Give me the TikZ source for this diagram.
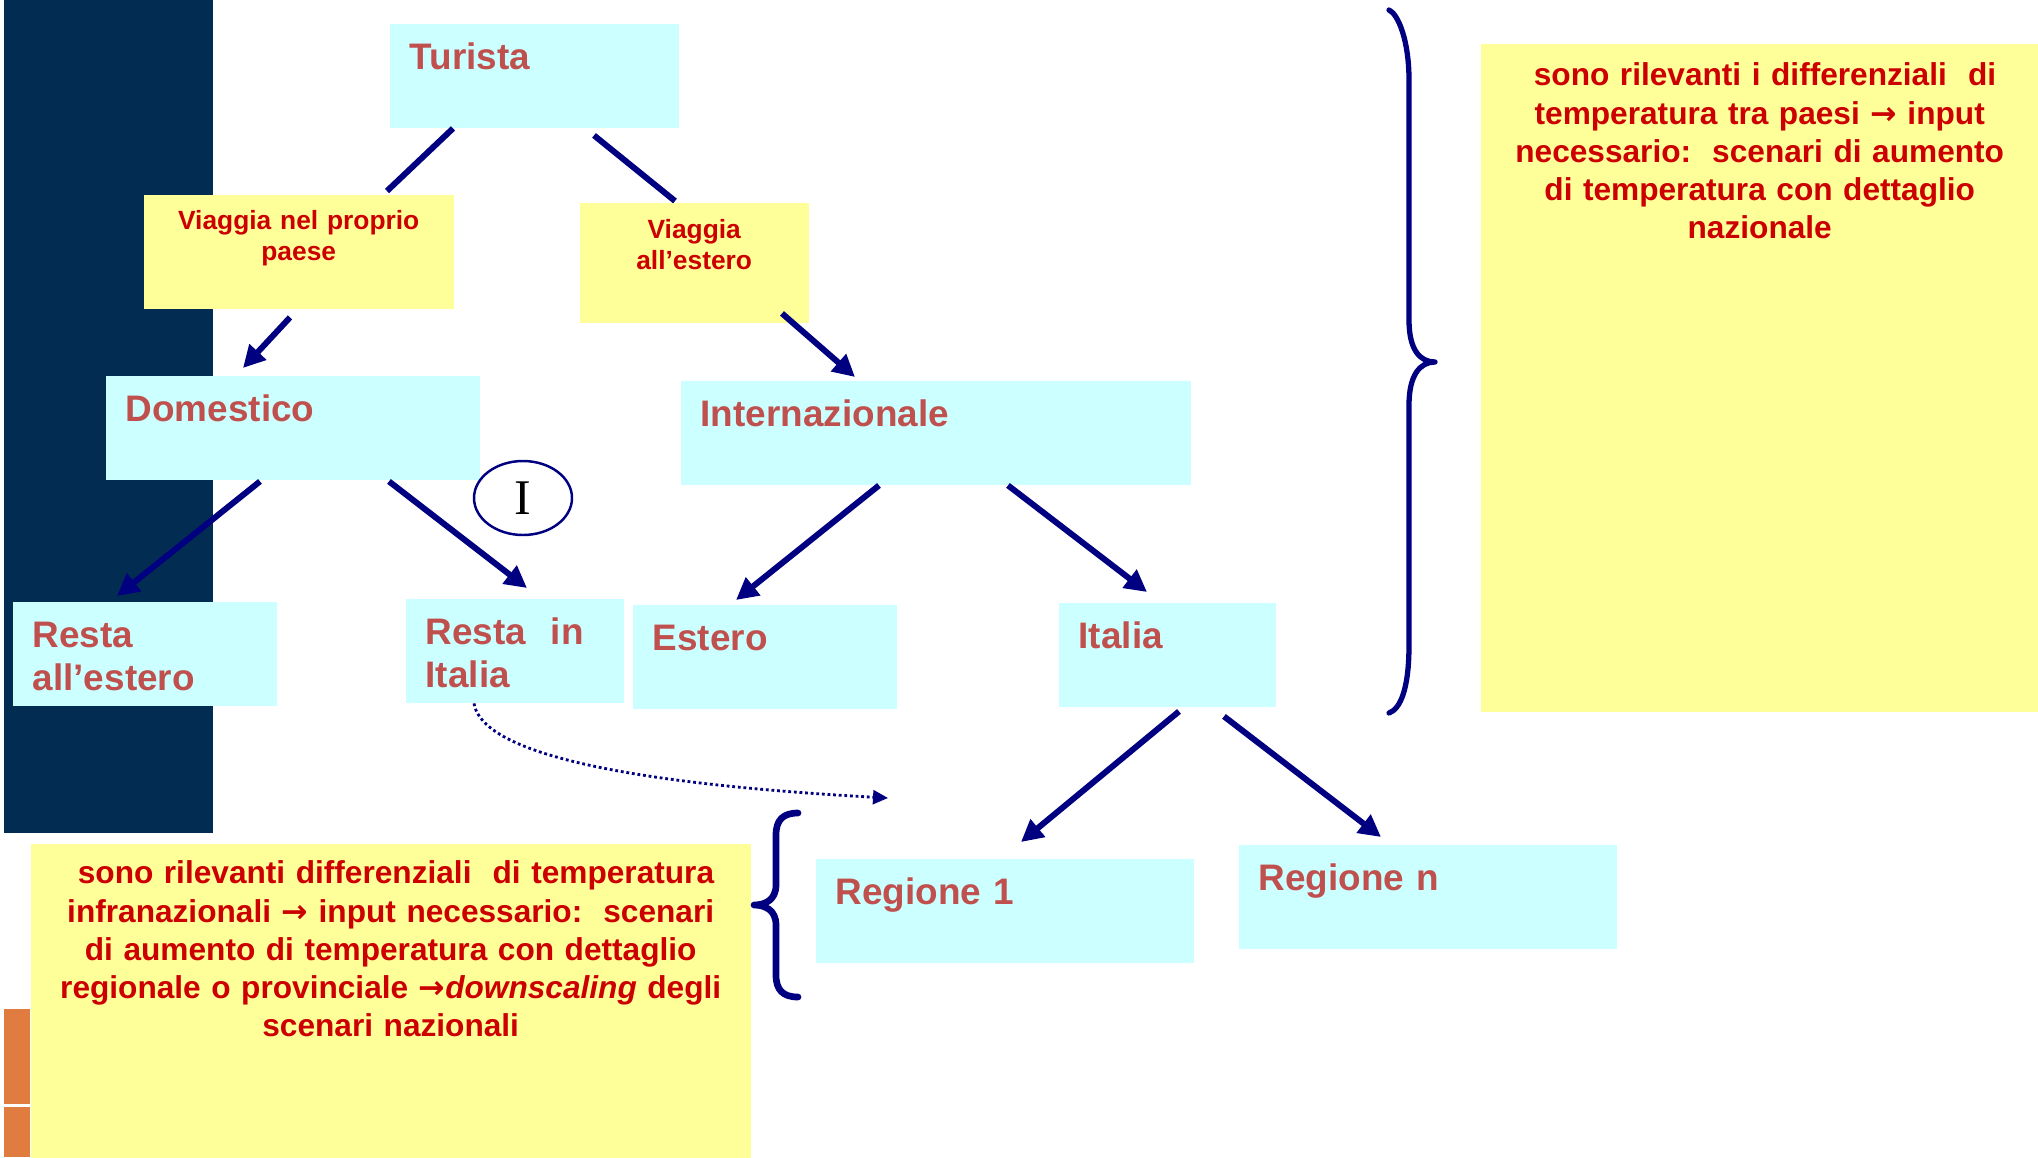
\documentclass[tikz,border=0pt]{standalone}
\usepackage{fontspec}
\setmainfont{Liberation Sans}
\newfontfamily\romanI{Liberation Serif}
\newfontfamily\arrowfont{DejaVu Sans}
\usetikzlibrary{calc,arrows.meta,shapes.geometric}
\definecolor{panelblue}{RGB}{3,44,82}
\definecolor{barorange}{RGB}{224,124,64}
\definecolor{boxcyan}{RGB}{204,255,255}
\definecolor{boxyellow}{RGB}{255,255,153}
\definecolor{lblred}{RGB}{192,80,77}
\definecolor{txtred}{RGB}{204,0,0}
\definecolor{linknavy}{RGB}{0,0,128}
\def\then{{\arrowfont\bfseries →}}
\tikzset{
	cbox/.style={fill=boxcyan, anchor=north west, inner xsep=0.2cm, inner ysep=0pt,
		text height=0.455cm, text depth=0.585cm, align=left, text=lblred,
		font=\fontsize{10.5}{12.2}\selectfont\bfseries},
	ybox/.style={fill=boxyellow, anchor=north west, inner xsep=0.1cm, inner ysep=0pt,
		align=center, text=txtred, font=\fontsize{7.5}{8.8}\selectfont\bfseries},
	notebox/.style={fill=boxyellow, anchor=north west, inner xsep=0.1cm, inner ysep=0pt,
		align=center, text=txtred, font=\fontsize{9.0}{10.9}\selectfont\bfseries},
	link/.style={draw=linknavy, line width=1.7pt},
	arr/.style={link, -{Triangle[length=0.22cm,width=0.22cm]}},
	brace/.style={draw=linknavy, line cap=round, line join=round}
}

\begin{document}
\begin{tikzpicture}[x=1cm, y=-1cm]
			%%%%% START %%%%%
			\useasboundingbox (0, 0) rectangle (20.38, 11.57);
			
			\fill[panelblue] (0.04, 0) rectangle (2.13, 8.33);
			\fill[barorange] (0.04, 10.09) rectangle (0.30, 11.04);
			\fill[barorange] (0.04, 11.07) rectangle (0.30, 11.57);
			
			\node[cbox, text width=2.49cm] (tur) at (3.89, 0.23) {Turista};
			\node[ybox, text width=2.90cm, text height=0.35cm, text depth=0.79cm] (vnp) at (1.43, 1.94) {Viaggia nel proprio\\paese};
			\node[ybox, text width=2.09cm, text height=0.36cm, text depth=0.84cm] (vae) at (5.79, 2.02) {Viaggia\\all’estero};
			
			\node[cbox, text width=3.34cm] (dom) at (1.05, 3.75) {Domestico};
			\node[cbox, text width=4.70cm] (int) at (6.80, 3.80) {Internazionale};
			
			\node[cbox, text width=2.24cm] (rae) at (0.12, 6.01) {Resta\\all’estero};
			\node[cbox, text width=1.78cm] (rit) at (4.05, 5.98) {Resta~ in\\Italia};
			\node[cbox, text width=2.24cm] (est) at (6.32, 6.04) {Estero};
			\node[cbox, text width=1.77cm] (ita) at (10.58, 6.02) {Italia};
			
			\node[cbox, text width=3.38cm] (reg1) at (8.15, 8.58) {Regione 1};
			\node[cbox, text width=3.38cm] (regn) at (12.38, 8.44) {Regione n};
			
			\node[draw=linknavy, line width=0.7pt, ellipse, minimum width=0.98cm, minimum height=0.74cm,
				inner sep=0pt, font=\romanI\fontsize{14.2}{14.2}\selectfont] (one) at (5.23, 4.98) {I};
			
			\node[notebox, text width=5.38cm, text height=0.42cm, text depth=6.26cm] (note1) at (14.80, 0.43)
				{\ sono rilevanti i differenziali\ \ di\\temperatura tra paesi \then{} input\\necessario:\ \ scenari di aumento\\di temperatura con dettaglio\\nazionale};
			\node[notebox, text width=7.00cm, text height=0.40cm, text depth=2.74cm] (note2) at (0.30, 8.43)
				{\ sono rilevanti differenziali\ \ di temperatura\\infranazionali \then{} input necessario:\ \ scenari\\di aumento di temperatura con dettaglio\\regionale o provinciale \then\textit{downscaling} degli\\scenari nazionali};
			
			\draw[link] ($(tur.south west)+(0.64, 0)$) -- ($(vnp.north west)+(2.44, -0.03)$);
			\draw[link] ($(tur.south west)+(2.05, 0.07)$) -- ($(vae.north west)+(0.96, -0.01)$);
			\draw[arr] ($(vnp.south west)+(1.47, 0.08)$) -- ($(dom.north west)+(1.38, -0.07)$);
			\draw[arr] ($(vae.south west)+(2.03, -0.10)$) -- ($(int.north west)+(1.75, -0.03)$);
			
			\draw[arr] ($(dom.south west)+(1.55, 0.01)$) -- ($(rae.north west)+(1.05, -0.05)$);
			\draw[arr] ($(dom.south west)+(2.84, 0.01)$) -- ($(rit.north west)+(1.22, -0.10)$);
			\draw[arr] ($(int.south west)+(1.99, 0)$) -- ($(est.north west)+(1.04, -0.04)$);
			\draw[arr] ($(int.south west)+(3.28, 0)$) -- ($(ita.north west)+(0.89, -0.10)$);
			
			\draw[arr] ($(ita.south west)+(1.21, 0.04)$) -- ($(reg1.north west)+(2.06, -0.16)$);
			\draw[arr] ($(ita.south west)+(1.66, 0.09)$) -- ($(regn.north west)+(1.43, -0.07)$);
			
			\coordinate (dotend) at (8.88, 7.98);
			\draw[draw=linknavy, line width=0.8pt, dash pattern=on 0.8pt off 0.8pt, -{Triangle[length=0.15cm,width=0.14cm]}]
				($(rit.south west)+(0.69, 0)$) .. controls (4.80, 7.40) and (5.60, 7.80) .. (dotend);
			
			\draw[brace, line width=1.5pt] (13.89, 0.10) .. controls (13.98, 0.14) and (14.09, 0.40) .. (14.09, 0.80)
				-- (14.09, 3.20) .. controls (14.09, 3.50) and (14.20, 3.62) .. (14.35, 3.62)
				.. controls (14.20, 3.62) and (14.09, 3.75) .. (14.09, 4.05)
				-- (14.09, 6.45) .. controls (14.09, 6.90) and (14.00, 7.09) .. (13.89, 7.13);
			
			\draw[brace, line width=1.9pt] (7.98, 8.13) .. controls (7.83, 8.13) and (7.76, 8.20) .. (7.76, 8.35)
				-- (7.76, 8.85) .. controls (7.76, 9.00) and (7.65, 9.05) .. (7.54, 9.05)
				.. controls (7.65, 9.05) and (7.76, 9.10) .. (7.76, 9.25)
				-- (7.76, 9.75) .. controls (7.76, 9.90) and (7.83, 9.97) .. (7.98, 9.97);
			
			%%%%% END %%%%%
\end{tikzpicture}
\end{document}
